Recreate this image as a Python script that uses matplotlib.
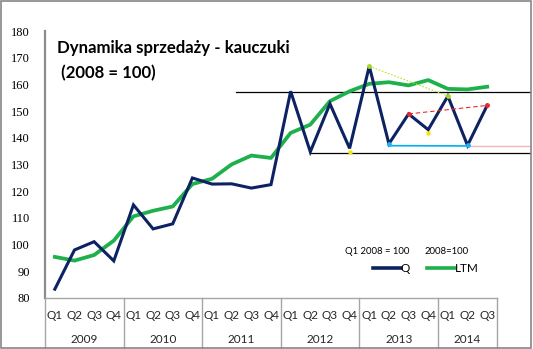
import matplotlib.pyplot as plt
from matplotlib.lines import Line2D
from matplotlib.patches import Rectangle
import matplotlib.transforms as mtransforms

years = ['2009', '2010', '2011', '2012', '2013', '2014']
quarters_per_year = [4, 4, 4, 4, 4, 3]
quarter_labels = ['Q1', 'Q2', 'Q3', 'Q4'] * 5 + ['Q1', 'Q2', 'Q3']

# kwartalna dynamika (Q1 2008 = 100)
q_values = [83.2, 97.9, 101.0, 93.8, 114.8, 105.8, 107.7, 124.9,
            122.6, 122.7, 121.1, 122.4, 157.4, 134.7, 152.7, 136.0,
            166.8, 137.7, 148.9, 143.0, 155.6, 137.1, 152.1]
# LTM (2008 = 100)
ltm_values = [95.3, 93.9, 96.0, 101.4, 110.5, 112.6, 114.2, 122.6,
              124.6, 130.0, 133.3, 132.4, 141.8, 144.9, 153.7, 157.4,
              160.2, 160.8, 159.6, 161.6, 158.3, 158.1, 159.1]

# poziomy oporu / wsparcia
resistance = 157.2
support = 134.3

NAVY = '#0d2262'
GREEN = '#1db04b'
SANS = ['Lato', 'DejaVu Sans']

fig = plt.figure(figsize=(5.33, 3.49), dpi=100)
ax = fig.add_axes([45 / 533, 1 - 297.7 / 349, 452 / 533, (297.7 - 31) / 349])

x = list(range(len(q_values)))
ax.plot(x, ltm_values, color=GREEN, lw=2.7, solid_joinstyle='round', zorder=3)
ax.plot(x, q_values, color=NAVY, lw=2.2, solid_joinstyle='miter', zorder=4)

n = len(q_values)
ax.set_xlim(-0.5, n - 0.5)
ax.set_ylim(80, 180)
x_right = n - 0.5 + 33 / 19.65  # do prawej krawedzi ramki

# linie techniczne
ax.plot([9.2, x_right], [resistance, resistance], color='black', lw=0.9, clip_on=False, zorder=2)
ax.plot([13, x_right], [support, support], color='black', lw=0.9, clip_on=False, zorder=2)
ax.plot([21, x_right], [q_values[21] - 0.4, q_values[21] - 0.4], color='#f4b6bc', lw=1.0,
        clip_on=False, zorder=2)
ax.plot([17, 21], [q_values[17] - 0.7, q_values[21] - 0.2], color='#00b0f0', lw=1.2, zorder=5)
ax.plot([16, 20], [q_values[16], q_values[20]], color='#b5e61d', lw=0.8, ls=(0, (1.5, 1.5)), zorder=5)
ax.plot([18, 22], [q_values[18], q_values[22]], color='#ee2a2a', lw=0.8, ls=(0, (4, 2.5)), zorder=5)

for i, c in [(16, '#a6d62a'), (20, '#a6d62a'), (18, '#e8262b'), (22, '#e8262b'),
             (17, '#1fb2f0'), (21, '#1fb2f0')]:
    ax.plot(i, q_values[i], 'o', ms=3.5, color=c, mec='none', zorder=6)
for i in [15, 19]:
    ax.plot(i, q_values[i] - 1.2, 's', ms=3, color='#f2e600', mec='none', zorder=6)

# osie
for s in ['top', 'right']:
    ax.spines[s].set_visible(False)
ax.spines['left'].set_color('#8c8c8c')
ax.spines['left'].set_linewidth(1.6)
ax.spines['bottom'].set_color('#a6a6a6')
ax.spines['bottom'].set_linewidth(1.0)
ax.set_yticks(range(80, 181, 10))
ax.tick_params(axis='y', length=0, pad=11, labelsize=9)
for lab in ax.get_yticklabels():
    lab.set_fontfamily('Liberation Serif')
ax.set_xticks([])

# etykiety kategorii (kwartaly + lata)
trans = mtransforms.blended_transform_factory(ax.transData, ax.transAxes)
for i, q in enumerate(quarter_labels):
    ax.text(i, -0.068, q, transform=trans, ha='center', va='center', fontsize=8.5,
            family=SANS, color='#262626')
start = -0.5
for y, k in zip(years, quarters_per_year):
    ax.text(start + k / 2, -0.158, y, transform=trans, ha='center', va='center', fontsize=8.5,
            family=SANS, color='#262626')
    ax.plot([start, start], [0, -0.2], transform=trans, color='#a6a6a6', lw=1.0, clip_on=False)
    start += k
ax.plot([start, start], [0, -0.2], transform=trans, color='#a6a6a6', lw=1.0, clip_on=False)

# tytul
fig.text(57 / 533, 1 - 48 / 349, 'Dynamika sprzedaży - kauczuki', fontsize=12.1, fontweight='bold',
         family=SANS, va='center', ha='left')
fig.text(57 / 533, 1 - 73 / 349, ' (2008 = 100)', fontsize=12.1, fontweight='bold',
         family=SANS, va='center', ha='left')

# legenda
handles = [Line2D([], [], color=NAVY, lw=2.6), Line2D([], [], color=GREEN, lw=2.6)]
fig.legend(handles, ['Q', 'LTM'], ncol=2, frameon=False, loc='center left',
           bbox_to_anchor=(362 / 533, 1 - 269 / 349), handlelength=2.4, handletextpad=0.0,
           columnspacing=1.4, prop={'family': SANS, 'size': 8.5})
fig.text(377 / 533, 1 - 252 / 349, 'Q1 2008 = 100', fontsize=6.8, family=SANS, ha='center', va='center')
fig.text(447 / 533, 1 - 252 / 349, '2008=100', fontsize=6.8, family=SANS, ha='center', va='center')

# ramka wykresu
fig.patches.append(Rectangle((0.002, 0.003), 0.994, 0.994, transform=fig.transFigure, fill=False,
                             edgecolor='#868686', lw=1.2))

fig.savefig('out.png', dpi=100)
